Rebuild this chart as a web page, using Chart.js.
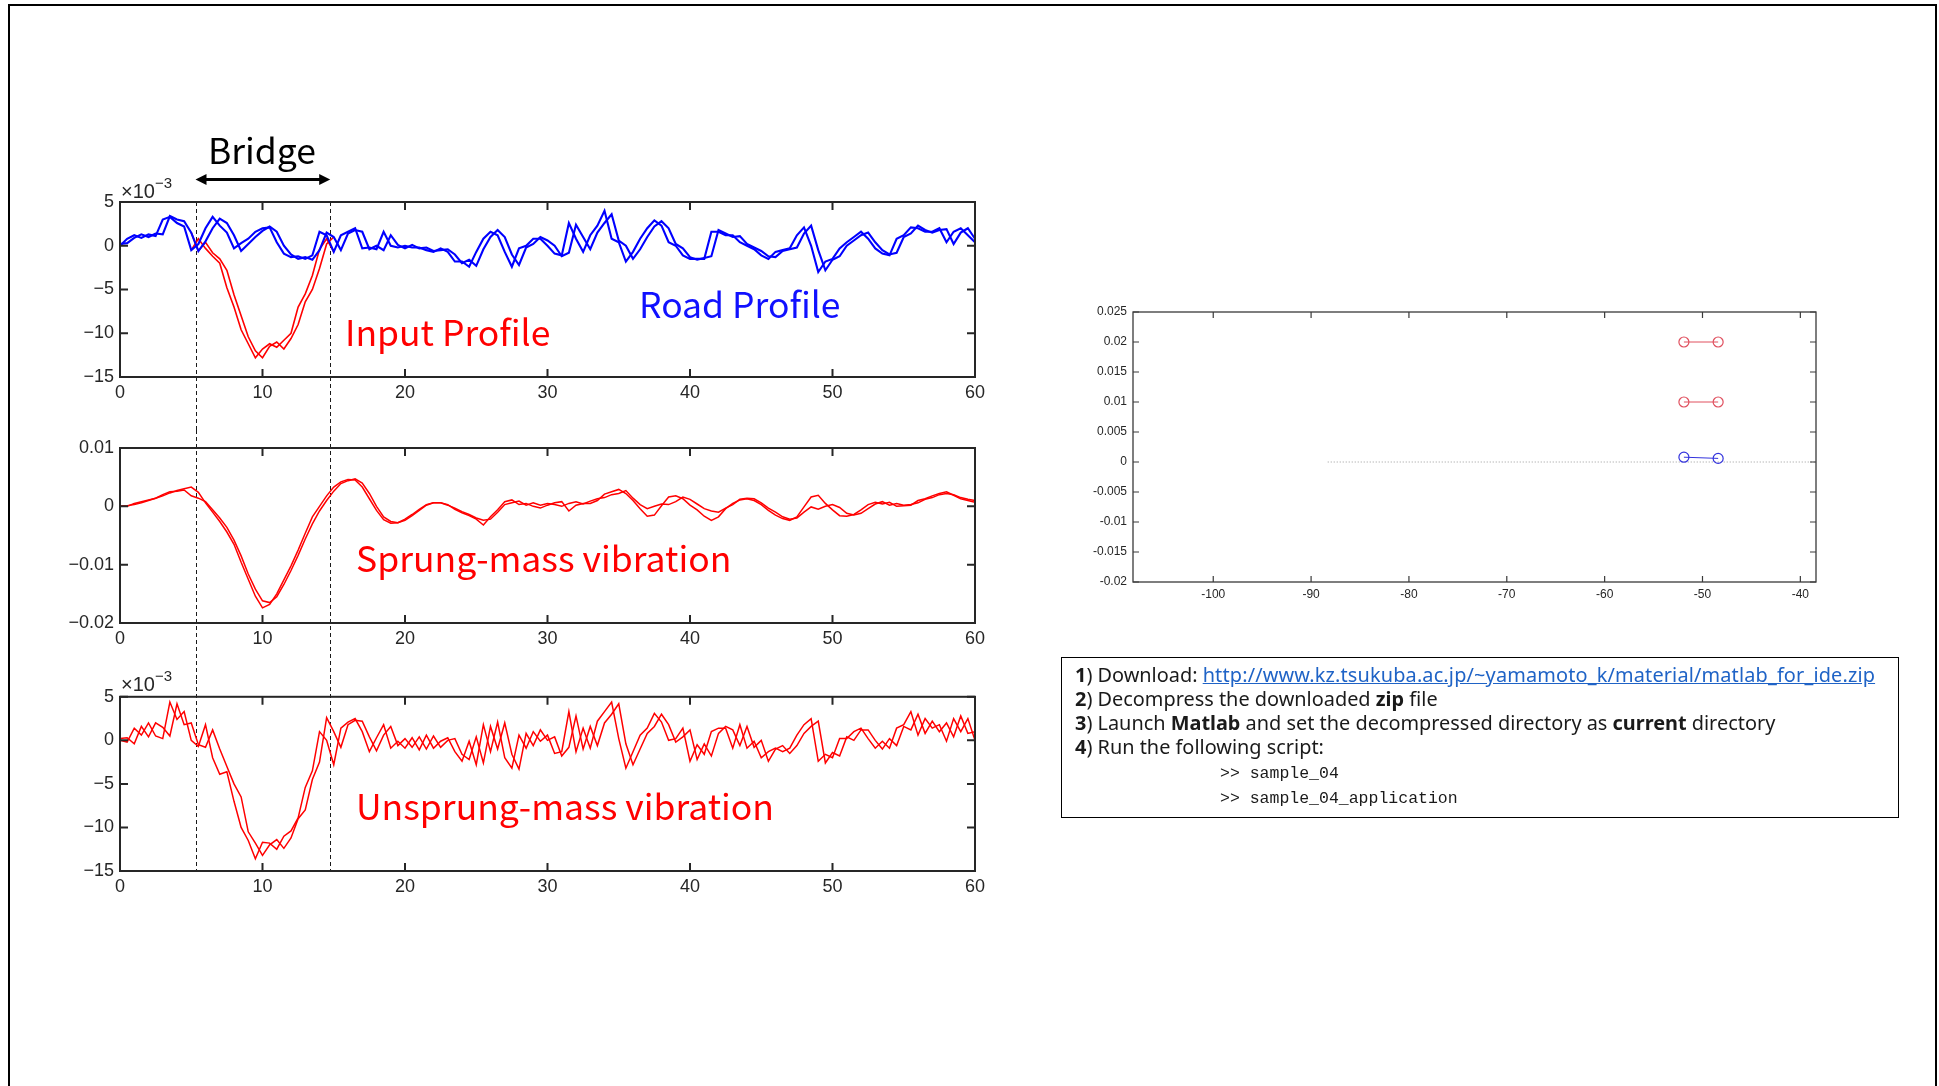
<!DOCTYPE html>
<html><head><meta charset="utf-8">
<script src="https://cdn.jsdelivr.net/npm/chart.js@4/dist/chart.umd.min.js"></script>
<style>
html,body{margin:0;padding:0;background:#fff;}
body{width:1939px;height:1086px;position:relative;overflow:hidden;font-family:"Noto Sans",sans-serif;}
#frame{position:absolute;left:8px;top:4px;width:1929px;height:1100px;border:2px solid #000;box-sizing:border-box;}
canvas{position:absolute;}
#ov{position:absolute;left:0;top:0;width:1939px;height:1086px;pointer-events:none;}
#box{position:absolute;left:1061px;top:657px;width:838px;height:161px;border:1.5px solid #000;box-sizing:border-box;padding:5px 0 0 13px;font-size:19.9px;color:#1a1a1a;}
#box .l{height:24px;line-height:24px;white-space:nowrap;}
#box .m{height:25px;line-height:25px;white-space:nowrap;margin-left:145px;font-family:"Liberation Mono",monospace;font-size:16.5px;}
#box .m1{margin-top:2px;}
#box a{color:#1f63c6;text-decoration:underline;letter-spacing:0.15px;}
#box b{font-weight:700;}
</style></head>
<body>
<div id="frame"></div>
<canvas id="c1" width="1000" height="330" style="left:0;top:100px"></canvas>
<canvas id="c2" width="1000" height="250" style="left:0;top:430px"></canvas>
<canvas id="c3" width="1000" height="240" style="left:0;top:680px"></canvas>
<canvas id="c4" width="800" height="330" style="left:1060px;top:290px"></canvas>
<svg id="ov" xmlns="http://www.w3.org/2000/svg" width="1939" height="1086">
  <g font-family="'Noto Sans CJK JP','Noto Sans',sans-serif">
    <text x="262" y="164" font-size="35.5" fill="#000" text-anchor="middle">Bridge</text>
    <text x="345" y="346" font-size="35.5" fill="#ff0000">Input Profile</text>
    <text x="639" y="318" font-size="35.5" fill="#1010ff">Road Profile</text>
    <text x="356" y="572" font-size="35.5" fill="#ff0000">Sprung-mass vibration</text>
    <text x="356" y="820" font-size="35.5" fill="#ff0000">Unsprung-mass vibration</text>
  </g>
  <g font-family="'Liberation Sans',sans-serif" fill="#262626">
    <text x="121" y="198" font-size="20">×10<tspan dy="-10" font-size="15">−3</tspan></text>
    <text x="121" y="691" font-size="20">×10<tspan dy="-10" font-size="15">−3</tspan></text>
  </g>
</svg>
<div id="box">
  <div class="l"><b>1</b>) Download: <a>http://www.kz.tsukuba.ac.jp/~yamamoto_k/material/matlab_for_ide.zip</a></div>
  <div class="l"><b>2</b>) Decompress the downloaded <b>zip</b> file</div>
  <div class="l"><b>3</b>) Launch <b>Matlab</b> and set the decompressed directory as <b>current</b> directory</div>
  <div class="l"><b>4</b>) Run the following script:</div>
  <div class="m m1">&gt;&gt; sample_04</div>
  <div class="m">&gt;&gt; sample_04_application</div>
</div>
<script>
// ---------- data ----------
const TIME = [0,0.5,1,1.5,2,2.5,3,3.5,4,4.5,5,5.5,6,6.5,7,7.5,8,8.5,9,9.5,10,10.5,11,11.5,12,12.5,13,13.5,14,14.5,15,15.5,16,16.5,17,17.5,18,18.5,19,19.5,20,20.5,21,21.5,22,22.5,23,23.5,24,24.5,25,25.5,26,26.5,27,27.5,28,28.5,29,29.5,30,30.5,31,31.5,32,32.5,33,33.5,34,34.5,35,35.5,36,36.5,37,37.5,38,38.5,39,39.5,40,40.5,41,41.5,42,42.5,43,43.5,44,44.5,45,45.5,46,46.5,47,47.5,48,48.5,49,49.5,50,50.5,51,51.5,52,52.5,53,53.5,54,54.5,55,55.5,56,56.5,57,57.5,58,58.5,59,59.5,60];

// road profile (x10^-3), two wheels
const ROAD_A = [
 0, 0.8, 1.2, 0.9, 1.3, 1.1, 3.0, 3.3, 2.6, 2.2,
 -0.5, 0.2, 2.0, 3.3, 2.3, 1.5, -0.3, 0.3, 0.8, 1.6,
 2.0, 2.1, 0.4, -0.9, -1.3, -1.2, -1.5, -1.1, 1.6, 1.2,
 -0.7, 1.2, 1.6, 2.0, -0.3, -0.2, -0.4, 1.6, 0.0, -0.2,
 0.0, -0.2, -0.2, -0.5, -0.7, -0.3, -0.7, -1.8, -1.8, -2.4,
 -0.7, 0.8, 1.6, 1.2, -0.7, -2.4, -0.3, 0.0, 0.8, 0.8,
 0.0, -0.9, -1.1, 2.6, 0.8, -0.7, 1.2, 2.3, 4.0, 0.8,
 0.4, -1.8, -0.7, 0.8, 2.0, 2.9, 2.3, 0.4, 0.0, -1.1,
 -1.5, -1.5, -1.5, 1.6, 1.6, 1.2, 1.2, 0.4, 0.0, -0.4,
 -1.1, -1.5, -0.7, -0.5, -0.3, 1.2, 2.1, 0.0, -3.0, -1.8,
 -1.5, -0.3, 0.4, 1.0, 1.6, 0.8, -0.3, -0.9, -1.1, 0.8,
 1.2, 2.1, 2.0, 1.6, 1.6, 2.0, 0.4, 1.6, 2.0, 1.2,
 0.4];
const ROAD_B = [
 0.2, 0.3, 0.9, 1.3, 1.0, 1.4, 1.3, 3.4, 3.0, 2.8,
 1.5, -0.6, 0.5, 2.0, 3.1, 2.6, 1.2, -0.6, 0.2, 1.0,
 1.7, 2.2, 1.6, 0.0, -1.0, -1.5, -1.3, -1.6, -0.5, 1.5,
 1.0, -0.5, 1.4, 1.8, 1.6, -0.4, 0.0, -0.5, 1.2, 0.1,
 -0.3, 0.1, -0.3, -0.2, -0.6, -0.5, -0.4, -1.0, -2.0, -1.6,
 -2.3, -0.4, 1.0, 1.8, 1.0, -1.0, -2.2, -0.2, 0.2, 1.0,
 0.6, 0.0, -1.2, -0.8, 2.4, 1.0, -0.4, 1.5, 2.6, 3.6,
 0.6, 0.0, -1.5, -0.4, 1.0, 2.2, 2.8, 2.0, 0.2, -0.3,
 -1.3, -1.6, -1.4, -1.2, 1.8, 1.4, 1.0, 1.1, 0.2, -0.2,
 -0.6, -1.2, -1.3, -0.6, -0.4, -0.2, 1.4, 2.3, -0.5, -2.8,
 -1.6, -1.2, 0.0, 0.6, 1.2, 1.5, 0.4, -0.5, -1.0, -0.8,
 1.0, 1.4, 2.3, 1.8, 1.5, 1.8, 1.9, 0.2, 1.5, 2.0,
 0.8];

// input profile on the bridge (x10^-3)
const BRIDGE_TIME = [5,5.5,6,6.5,7,7.5,8,8.5,9,9.5,10,10.5,11,11.5,12,12.5,13,13.5,14,14.5,15];
const INPUT_A = [-0.5, 0.8, -0.3, -1.2, -2.0, -4.8, -7.0, -9.6, -11.2, -12.8, -11.8, -11.2, -11.6, -10.8, -10.0, -7.0, -5.5, -3.4, -0.4, 0.8, -0.7];
const INPUT_B = [1.5, -0.6, 0.4, -0.8, -1.5, -2.8, -5.6, -8.0, -10.4, -12.0, -12.8, -11.5, -11.0, -11.8, -10.6, -9.0, -6.4, -5.0, -2.6, 0.2, 1.0];
const BRIDGE_EDGES = [5.3, 14.75];

// sprung-mass vibration (x10^-3)
const SPRUNG_A = [
 0, 0.1, 0.3, 0.6, 1.0, 1.4, 1.8, 2.3, 2.7, 3.0,
 3.3, 2.4, 0.6, -1.0, -2.6, -4.4, -6.5, -9.6, -12.5, -15.4,
 -17.4, -16.8, -15.0, -12.6, -10.2, -7.5, -4.6, -1.8, 0.0, 1.8,
 3.3, 4.2, 4.6, 4.5, 3.3, 1.3, -0.7, -2.3, -2.9, -2.8,
 -2.2, -1.4, -0.5, 0.3, 0.6, 0.6, 0.3, -0.5, -1.1, -1.6,
 -2.2, -3.2, -1.8, -0.6, 0.8, 1.1, 0.3, 0.5, 0.0, -0.3,
 0.2, 0.6, 0.8, -0.8, 0.2, 0.5, 0.5, 1.0, 2.1, 2.5,
 2.9, 2.2, 1.0, -0.4, -1.7, -1.5, 0.1, 1.6, 1.8, 1.3,
 0.2, -0.6, -1.7, -2.4, -1.8, -0.4, 0.5, 1.1, 1.3, 1.0,
 0.3, -0.7, -1.5, -2.1, -2.4, -1.8, -0.1, 1.6, 1.9, 0.5,
 -0.6, -1.6, -1.7, -1.4, -0.6, 0.3, 0.7, 0.4, 0.7, 0.0,
 0.1, 0.2, 1.0, 1.3, 1.8, 2.2, 2.5, 1.9, 1.3, 1.0,
 0.7];
const SPRUNG_B = [
 0, 0.0, 0.5, 0.8, 1.1, 1.4, 2.0, 2.5, 2.6, 2.8,
 1.8, 1.4, 0.8, -0.6, -2.0, -3.6, -5.8, -8.5, -11.6, -14.2,
 -16.2, -16.5, -15.5, -13.4, -11.0, -8.4, -5.6, -3.0, -0.8, 1.0,
 2.6, 3.9, 4.4, 4.7, 4.0, 2.2, 0.0, -1.8, -2.6, -2.8,
 -2.4, -1.6, -0.7, 0.2, 0.6, 0.6, 0.2, -0.3, -0.9, -1.4,
 -2.0, -2.4, -2.2, -1.0, 0.3, 0.6, 0.9, 0.2, 0.6, 0.2,
 0.5, 0.3, 0.0, 0.5, 0.8, 0.4, 0.9, 1.3, 1.5, 2.0,
 2.2, 2.7, 1.4, 0.3, -0.4, 0.0, 0.4, 0.3, 0.8, 1.6,
 1.2, 0.4, -0.4, -0.8, -1.0, -0.3, 0.3, 1.2, 1.4, 1.3,
 0.6, -0.3, -1.0, -1.8, -2.2, -2.0, -1.0, -0.1, -0.5, 0.0,
 0.3, -0.2, -1.2, -1.5, -1.2, -0.4, 0.4, 0.8, 0.2, 0.5,
 0.2, 0.3, 0.6, 1.2, 1.5, 2.0, 2.2, 2.0, 1.5, 1.2,
 1.0];

// unsprung-mass vibration (x10^-3)
const UNSPRUNG_A = [
 0.0, -0.2, 1.4, 0.6, 2.0, 0.5, 0.2, 4.4, 2.4, 3.3,
 0.0, -0.7, 1.8, -2.0, -3.9, -3.6, -7.0, -10.0, -11.5, -13.6,
 -11.7, -11.8, -12.5, -11.0, -10.4, -8.9, -5.4, -3.5, 1.0, 0.0,
 -2.8, 1.4, 2.1, 2.5, 1.0, -1.3, 0.3, 1.8, -0.9, -0.1,
 -0.9, 0.3, -1.1, 0.6, -0.9, -0.1, 0.3, -1.3, -2.4, -0.1,
 -2.8, 1.8, -1.3, 2.1, -2.0, -3.2, 0.6, -0.9, 1.0, -0.1,
 0.6, -1.5, -1.3, 3.3, -1.3, 1.4, -0.9, 2.2, 3.3, 4.4,
 0.2, -3.2, -1.3, 0.6, 1.4, 3.1, 2.1, 0.0, 0.2, 1.4,
 -2.4, -0.5, -1.6, 1.0, 1.4, 1.4, -0.9, 1.8, -0.9, -0.1,
 -2.0, -1.3, -0.9, -1.3, -0.9, 0.6, 1.8, 2.5, -2.4, -1.6,
 -2.0, 0.2, 0.2, 1.0, 1.4, 0.2, -0.9, -0.1, -0.9, 1.4,
 1.8, 3.3, 0.6, 2.5, 1.4, 1.8, -0.1, 2.5, 1.0, 2.5,
 0.0];
const UNSPRUNG_B = [
 0.2, 0.3, -0.4, 1.6, 0.4, 2.0, 1.5, 0.5, 4.2, 1.8,
 2.0, -0.5, -0.8, 1.2, -1.0, -3.0, -5.0, -6.5, -10.5, -11.8,
 -13.2, -12.0, -11.4, -12.4, -11.2, -9.0, -8.0, -4.5, -2.5, 2.6,
 1.0, -0.8, 1.8, 2.3, 2.2, 0.4, -1.2, 0.6, 1.6, -0.6,
 0.2, -0.8, 0.4, -1.0, 0.5, -0.8, 0.0, 0.2, -1.6, -2.2,
 0.4, -2.6, 1.6, -1.0, 2.0, -1.6, -3.3, 0.8, -0.6, 1.2,
 0.0, 0.4, -1.8, -0.8, 2.8, -1.0, 1.6, -0.6, 2.0, 3.0,
 4.2, -0.4, -2.8, -1.0, 0.8, 1.6, 3.0, 1.8, -0.2, 0.4,
 1.2, -2.2, -0.4, -1.8, 0.8, 1.6, 1.2, -0.6, 1.6, -0.8,
 0.0, -2.4, -1.0, -0.6, -1.5, -0.6, 0.8, 1.6, 2.2, -2.6,
 -1.4, -1.8, 0.4, 0.0, 1.2, 1.2, 0.0, -1.0, 0.2, -0.6,
 1.6, 1.2, 3.0, 0.8, 2.2, 1.0, 2.0, 0.4, 2.8, 0.8,
 1.0];

const TIME_TICKS = [0,10,20,30,40,50,60];
const MILLI_TICKS = [-15,-10,-5,0,5];
const SPRUNG_TICKS = [-20,-10,0,10];

// right panel
const SENSOR_X = [-51.9, -48.4];
const SENSOR_UPPER = [0.02, 0.02];
const SENSOR_MID = [0.01, 0.01];
const SENSOR_LOW = [0.0008, 0.0006];
const ZERO_X = [-88.3, -38.4];
const ZERO_Y = [0, 0];
const POS_TICKS = [-100,-90,-80,-70,-60,-50,-40];
const DISP_TICKS = [-0.02,-0.015,-0.01,-0.005,0,0.005,0.01,0.015,0.02,0.025];

// ---------- helpers ----------
const zip = (xs, ys) => xs.map((x, i) => ({x: x, y: ys[i]}));
const minus = s => String(s).replace('-', '\u2212');
const AXIS_COLOR = '#262626';
const TICK_FONT = {family: '"Liberation Sans", Arial, sans-serif', size: 18};

const matlabBox = {
  id: 'matlabBox',
  beforeDatasetsDraw(chart, args, o) {
    if (!o.dash) return;
    const {ctx, chartArea: a, scales} = chart;
    ctx.save();
    ctx.setLineDash([4, 3]);
    ctx.lineWidth = 1;
    ctx.strokeStyle = '#1a1a1a';
    for (const v of BRIDGE_EDGES) {
      const x = Math.round(scales.x.getPixelForValue(v)) + 0.5;
      const y0 = o.dash === 'top' ? a.top : 0;
      const y1 = o.dash === 'bottom' ? a.bottom : chart.height;
      ctx.beginPath(); ctx.moveTo(x, y0); ctx.lineTo(x, y1); ctx.stroke();
    }
    ctx.restore();
  },
  afterDatasetsDraw(chart, args, o) {
    const {ctx, chartArea: a, scales} = chart;
    ctx.save();
    ctx.strokeStyle = o.color || AXIS_COLOR;
    ctx.lineWidth = o.lw || 2;
    ctx.strokeRect(a.left, a.top, a.right - a.left, a.bottom - a.top);
    const L = o.tickLen || 8;
    ctx.lineWidth = o.tickW || 2;
    ctx.beginPath();
    for (const t of scales.x.ticks) {
      const x = scales.x.getPixelForValue(t.value);
      ctx.moveTo(x, a.bottom); ctx.lineTo(x, a.bottom - L);
      ctx.moveTo(x, a.top); ctx.lineTo(x, a.top + L);
    }
    for (const t of scales.y.ticks) {
      const y = scales.y.getPixelForValue(t.value);
      ctx.moveTo(a.left, y); ctx.lineTo(a.left + L, y);
      ctx.moveTo(a.right, y); ctx.lineTo(a.right - L, y);
    }
    ctx.stroke();
    if (o.arrow) {
      const x1 = scales.x.getPixelForValue(BRIDGE_EDGES[0]);
      const x2 = scales.x.getPixelForValue(BRIDGE_EDGES[1]);
      const y = a.top - 22.5, h = 11, w = 5.5;
      ctx.fillStyle = '#000'; ctx.strokeStyle = '#000'; ctx.lineWidth = 3;
      ctx.beginPath(); ctx.moveTo(x1 + h - 1, y); ctx.lineTo(x2 - h + 1, y); ctx.stroke();
      ctx.beginPath(); ctx.moveTo(x1, y); ctx.lineTo(x1 + h, y - w); ctx.lineTo(x1 + h, y + w); ctx.closePath(); ctx.fill();
      ctx.beginPath(); ctx.moveTo(x2, y); ctx.lineTo(x2 - h, y - w); ctx.lineTo(x2 - h, y + w); ctx.closePath(); ctx.fill();
    }
    ctx.restore();
  }
};

function axis(min, max, ticks, fmt, fit, isX, font, pad) {
  return {
    type: 'linear', min: min, max: max,
    afterBuildTicks: s => { s.ticks = ticks.map(v => ({value: v})); },
    afterFit: s => { if (isX) s.height = fit; else s.width = fit; },
    grid: {display: false, drawTicks: false},
    border: {display: false},
    ticks: {font: font, color: AXIS_COLOR, padding: pad, autoSkip: false, maxRotation: 0, callback: fmt}
  };
}

function lineDs(pts, color, w) {
  return {data: pts, borderColor: color, borderWidth: w, pointRadius: 0, tension: 0, fill: false};
}

function timeChart(id, datasets, yMin, yMax, yTicks, yFmt, pad, dash, arrow) {
  return new Chart(document.getElementById(id), {
    type: 'line',
    data: {datasets: datasets},
    options: {
      responsive: false, animation: false, devicePixelRatio: 1,
      layout: {padding: pad},
      scales: {
        x: axis(0, 60, TIME_TICKS, v => String(v), 30, true, TICK_FONT, 5),
        y: axis(yMin, yMax, yTicks, yFmt, 120, false, TICK_FONT, 6)
      },
      plugins: {legend: {display: false}, tooltip: {enabled: false},
        matlabBox: {dash: dash, arrow: arrow}}
    },
    plugins: [matlabBox]
  });
}

timeChart('c1', [
  lineDs(zip(TIME, ROAD_A), '#0000ff', 2.1),
  lineDs(zip(TIME, ROAD_B), '#0000ff', 2.1),
  lineDs(zip(BRIDGE_TIME, INPUT_A), '#ff0000', 1.6),
  lineDs(zip(BRIDGE_TIME, INPUT_B), '#ff0000', 1.6)
], -15, 5, MILLI_TICKS, v => minus(v), {left: 0, right: 25, top: 102, bottom: 23}, 'top', true);

timeChart('c2', [
  lineDs(zip(TIME, SPRUNG_A), '#ff0000', 1.5),
  lineDs(zip(TIME, SPRUNG_B), '#ff0000', 1.5)
], -20, 10, SPRUNG_TICKS, v => minus(+(v / 1000).toFixed(2)), {left: 0, right: 25, top: 18, bottom: 27}, 'full', false);

timeChart('c3', [
  lineDs(zip(TIME, UNSPRUNG_A), '#ff0000', 1.5),
  lineDs(zip(TIME, UNSPRUNG_B), '#ff0000', 1.5)
], -15, 5, MILLI_TICKS, v => minus(v), {left: 0, right: 25, top: 15, bottom: 19}, 'bottom', false);

// right panel
const SMALL_FONT = {family: '"Liberation Sans", Arial, sans-serif', size: 12};
function sensorDs(ys, color) {
  return {data: zip(SENSOR_X, ys), borderColor: color, borderWidth: 1, tension: 0,
    pointRadius: 5, pointBorderWidth: 1.2, pointBorderColor: color,
    pointBackgroundColor: 'rgba(0,0,0,0)', fill: false};
}
new Chart(document.getElementById('c4'), {
  type: 'line',
  data: {datasets: [
    sensorDs(SENSOR_UPPER, '#e0505f'),
    sensorDs(SENSOR_MID, '#e0505f'),
    sensorDs(SENSOR_LOW, '#3333dd'),
    {data: zip(ZERO_X, ZERO_Y), borderColor: '#9a9a9a', borderWidth: 1, borderDash: [1, 2], pointRadius: 0, fill: false}
  ]},
  options: {
    responsive: false, animation: false, devicePixelRatio: 1,
    layout: {padding: {left: 0, right: 44, top: 22, bottom: 13}},
    scales: {
      x: axis(-108.2, -38.4, POS_TICKS, v => String(v), 25, true, SMALL_FONT, 5),
      y: axis(-0.02, 0.025, DISP_TICKS, v => String(+v.toFixed(3)), 73, false, SMALL_FONT, 6)
    },
    plugins: {legend: {display: false}, tooltip: {enabled: false},
      matlabBox: {lw: 1.3, tickLen: 6, tickW: 1.2, color: '#3a3a3a'}}
  },
  plugins: [matlabBox]
});
</script>
</body></html>
